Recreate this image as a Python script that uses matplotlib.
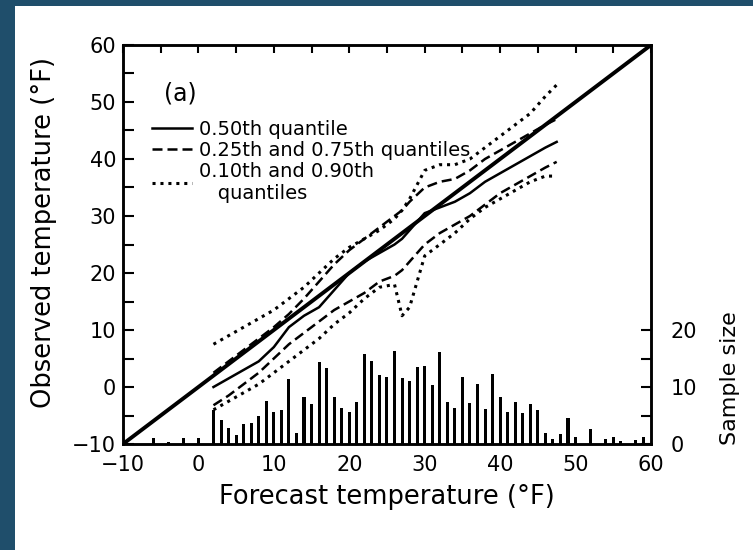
import numpy as np
import matplotlib
matplotlib.use("Agg")
import matplotlib.pyplot as plt
from matplotlib.patches import Rectangle
from matplotlib.lines import Line2D

# forecast temperature bins and sample sizes
bin_temp = [-6, -4, -2, 0, 2, 3, 4, 5, 6, 7, 8, 9, 10, 11, 12, 13, 14, 15, 16, 17,
            18, 19, 20, 21, 22, 23, 24, 25, 26, 27, 28, 29, 30, 31, 32, 33, 34, 35,
            36, 37, 38, 39, 40, 41, 42, 43, 44, 45, 46, 47, 48, 49, 50, 52, 54, 55,
            56, 58, 59]
sample_size = [1.0, 0.4, 1.0, 1.0, 6.0, 4.3, 2.8, 1.6, 3.5, 3.7, 4.9, 7.6, 5.6, 5.9,
               11.4, 2.0, 8.2, 7.0, 14.3, 13.3, 8.2, 6.4, 5.6, 7.3, 15.8, 14.5, 12.1,
               11.8, 16.4, 11.6, 11.1, 13.5, 13.6, 10.3, 16.2, 7.4, 6.4, 11.7, 7.2,
               10.6, 6.2, 12.3, 8.3, 5.6, 7.3, 5.4, 7.1, 6.0, 1.9, 0.9, 1.8, 4.6, 1.3,
               2.7, 0.8, 1.3, 0.6, 0.7, 1.2]

# quantile curves of observed temperature
fc = [2, 4, 6, 8, 10, 12, 14, 16, 18, 20, 22, 24, 26, 27, 28, 30, 32, 34, 36, 38,
      40, 42, 44, 46, 47.5]
q50 = [0, 1.5, 3, 4.5, 7, 10.5, 12.5, 14, 17, 20, 22, 23.5, 25, 26, 27.5, 30.5,
       31.5, 32.5, 34, 36, 37.5, 39, 40.5, 42, 43]
q75 = [2.5, 4.5, 6.5, 8.5, 10.5, 12.8, 15.5, 18.5, 21.5, 24, 26, 28, 30, 31, 32.5,
       35, 36, 36.5, 38, 40, 41.5, 43, 44.5, 46, 47]
q25 = [-3.2, -1.5, 0.5, 2.5, 5, 7.5, 9.5, 11.5, 13.5, 15, 16.5, 18.5, 19.5, 20.5,
       22, 25, 27, 28.5, 30, 32, 34, 35.5, 37, 38.5, 39.5]
q90 = [7.5, 9, 10.5, 12, 13.5, 15.5, 17.5, 20, 22.5, 24.5, 26, 27.5, 29.5, 31, 33,
       38, 39, 39, 40, 42, 44, 46, 48, 51, 53]
q10 = [-4, -2.5, -1, 0.5, 2.5, 4.5, 6.5, 8.5, 11, 13, 15.5, 17.5, 18, 12.5, 14,
       23, 25, 27, 29.5, 31.5, 33, 34.5, 36, 37, 37]

DASH = (0, (4, 2))
DOT = (0, (1, 1.6))

fig = plt.figure(figsize=(7.53, 5.5), dpi=100, facecolor="#1f4e6b")
fig.add_artist(Rectangle((15 / 753, 0), 1, 1 - 6 / 550, transform=fig.transFigure,
                         facecolor="white", edgecolor="none", zorder=0))

ax = fig.add_axes([0.1633, 0.1927, 0.7012, 0.7255])
ax2 = ax.twinx()

# histogram on the right-hand axis
ax2.bar(bin_temp, sample_size, width=0.4, color="black")
ax2.set_ylim(0, 70)
ax2.set_yticks([0, 10, 20])
ax2.set_yticks([5, 15], minor=True)
ax2.tick_params(axis="y", which="both", direction="in", length=7, width=1.5,
                labelsize=15, pad=14)
ax2.set_ylabel("Sample size", fontsize=16)
ax2.yaxis.set_label_coords(1.131, 0.165)

# quantile lines
ax.axline((0, 0), slope=1, color="black", lw=2.8)
ax.plot(fc, q50, color="black", lw=1.8)
ax.plot(fc, q75, color="black", lw=1.8, ls=DASH)
ax.plot(fc, q25, color="black", lw=1.8, ls=DASH)
ax.plot(fc, q90, color="black", lw=2.2, ls=DOT)
ax.plot(fc, q10, color="black", lw=2.2, ls=DOT)

ax.set_xlim(-10, 60)
ax.set_ylim(-10, 60)
ax.set_xticks(range(-10, 61, 10))
ax.set_xticks(range(-10, 61, 5), minor=True)
ax.set_yticks(range(-10, 61, 10))
ax.set_yticks(range(-5, 60, 10), minor=True)
ax.tick_params(axis="y", which="both", direction="in", length=8, width=1.5,
               labelsize=15, pad=5)
ax.tick_params(axis="x", which="both", bottom=False, top=True, direction="in",
               length=6, width=1.5, labelsize=15, pad=8)
for sp in list(ax.spines.values()) + list(ax2.spines.values()):
    sp.set_linewidth(1.8)

ax.set_xlabel("Forecast temperature (°F)", fontsize=18.5)
ax.xaxis.set_label_coords(0.5, -0.10)
ax.set_ylabel("Observed temperature (°F)", fontsize=18.5)
ax.yaxis.set_label_coords(-0.125, 0.53)

ax.text(-4.5, 51.5, "(a)", fontsize=17, va="center", ha="left")

handles = [Line2D([], [], color="black", lw=1.8),
           Line2D([], [], color="black", lw=1.8, ls=DASH),
           Line2D([], [], color="black", lw=2.2, ls=DOT)]
labels = ["0.50th quantile", "0.25th and 0.75th quantiles",
          "0.10th and 0.90th\n   quantiles"]
ax.legend(handles, labels, loc="upper left", bbox_to_anchor=(0.04, 0.832),
          frameon=False, fontsize=14, handlelength=2.05, handletextpad=0.36,
          labelspacing=0.1, borderaxespad=0)

fig.savefig("out.png", dpi=100, facecolor=fig.get_facecolor())
